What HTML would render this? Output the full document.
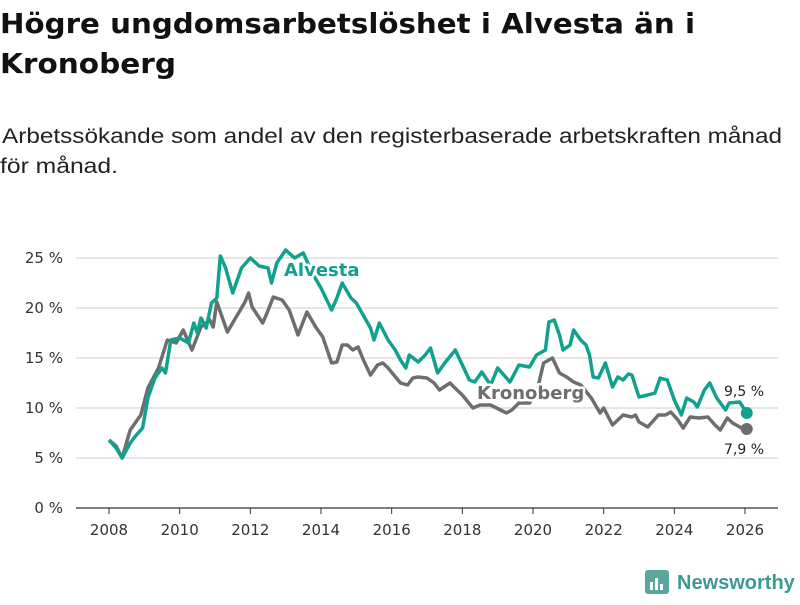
<!DOCTYPE html>
<html><head><meta charset="utf-8"><style>
body{margin:0;background:#fff;width:800px;height:600px;overflow:hidden;font-family:"Liberation Sans",sans-serif}
</style></head><body>
<svg id="chart" width="800" height="600" xmlns="http://www.w3.org/2000/svg" font-family="Liberation Sans, sans-serif">
<text x="0" y="33" font-size="28" font-weight="bold" fill="#111" font-family="DejaVu Sans, sans-serif" textLength="695" lengthAdjust="spacingAndGlyphs">Högre ungdomsarbetslöshet i Alvesta än i</text>
<text x="0" y="73" font-size="28" font-weight="bold" fill="#111" font-family="DejaVu Sans, sans-serif" textLength="176" lengthAdjust="spacingAndGlyphs">Kronoberg</text>
<text x="2" y="143" font-size="21" fill="#222" textLength="780" lengthAdjust="spacingAndGlyphs">Arbetssökande som andel av den registerbaserade arbetskraften månad</text>
<text x="0" y="173" font-size="21" fill="#222" textLength="118" lengthAdjust="spacingAndGlyphs">för månad.</text>
<g id="grid"></g><g id="xaxis"></g><g id="lines"></g><g id="labels"></g>
<g>
<rect x="645" y="570" width="24" height="24" rx="3" fill="#5aa7a0"/>
<rect x="650" y="582" width="3" height="8" fill="#fff"/><rect x="655" y="578" width="3" height="12" fill="#fff"/><rect x="660" y="584" width="3" height="6" fill="#fff"/>
<text x="677" y="589" font-size="20" font-weight="bold" fill="#3d9a91">Newsworthy</text>
</g>
</svg>
<script>
const yTicks=[0,5,10,15,20,25];
const xTicks=[2008,2010,2012,2014,2016,2018,2020,2022,2024,2026];
const alvestaDates=[2008.0,2008.2,2008.37,2008.6,2008.75,2008.95,2009.1,2009.3,2009.5,2009.6,2009.75,2010.0,2010.25,2010.4,2010.5,2010.6,2010.75,2010.9,2011.05,2011.15,2011.3,2011.5,2011.75,2012.0,2012.25,2012.5,2012.6,2012.75,2013.0,2013.25,2013.5,2013.75,2014.0,2014.3,2014.45,2014.6,2014.85,2015.0,2015.4,2015.5,2015.65,2015.9,2016.1,2016.25,2016.4,2016.5,2016.75,2016.95,2017.1,2017.3,2017.5,2017.8,2018.2,2018.35,2018.55,2018.8,2019.0,2019.35,2019.6,2019.9,2020.1,2020.35,2020.45,2020.6,2020.75,2020.85,2021.05,2021.15,2021.35,2021.5,2021.6,2021.7,2021.85,2022.05,2022.25,2022.4,2022.55,2022.7,2022.8,2023.0,2023.25,2023.45,2023.6,2023.8,2024.0,2024.2,2024.35,2024.55,2024.65,2024.85,2025.0,2025.2,2025.45,2025.55,2025.85,2026.05];
const alvestaValues=[6.8,6.0,5.0,6.5,7.2,8.0,11.0,13.0,14.0,13.5,16.8,17.0,16.5,18.5,17.5,19.0,18.0,20.5,21.0,25.2,24.0,21.5,24.0,25.0,24.2,24.0,22.5,24.5,25.8,25.0,25.5,23.5,22.0,19.8,21.0,22.5,21.0,20.5,18.0,16.8,18.5,16.8,15.8,14.8,14.0,15.3,14.6,15.3,16.0,13.5,14.5,15.8,12.8,12.6,13.6,12.3,14.0,12.6,14.3,14.1,15.3,15.8,18.6,18.8,17.3,15.8,16.3,17.8,16.8,16.3,15.3,13.1,13.0,14.5,12.1,13.1,12.8,13.4,13.3,11.1,11.3,11.5,13.0,12.8,10.8,9.3,11.0,10.6,10.1,11.8,12.5,11.0,9.8,10.5,10.6,9.5];
const kronobergDates=[2008.0,2008.2,2008.37,2008.6,2008.9,2009.1,2009.4,2009.65,2009.9,2010.1,2010.35,2010.6,2010.85,2010.95,2011.05,2011.35,2011.55,2011.85,2011.95,2012.05,2012.35,2012.45,2012.65,2012.9,2013.1,2013.35,2013.6,2013.85,2014.05,2014.3,2014.45,2014.6,2014.75,2014.9,2015.05,2015.2,2015.4,2015.6,2015.75,2015.9,2016.25,2016.45,2016.6,2016.75,2017.0,2017.2,2017.35,2017.65,2017.85,2018.0,2018.3,2018.5,2018.8,2019.25,2019.4,2019.6,2019.9,2020.1,2020.3,2020.55,2020.75,2020.95,2021.15,2021.35,2021.65,2021.9,2022.0,2022.25,2022.55,2022.8,2022.9,2023.0,2023.25,2023.55,2023.75,2023.9,2024.1,2024.25,2024.45,2024.7,2024.95,2025.15,2025.3,2025.5,2025.65,2025.9,2026.05];
const kronobergValues=[6.8,6.2,5.0,7.8,9.3,12.0,14.0,16.8,16.5,17.8,15.8,18.1,18.8,18.1,20.6,17.6,18.8,20.6,21.5,20.1,18.5,19.3,21.1,20.8,19.8,17.3,19.6,18.1,17.1,14.5,14.6,16.3,16.3,15.8,16.1,14.8,13.3,14.3,14.5,14.0,12.5,12.3,13.0,13.1,13.0,12.5,11.8,12.5,11.8,11.3,10.0,10.3,10.3,9.5,9.8,10.5,10.5,11.5,14.5,15.0,13.5,13.1,12.6,12.3,11.0,9.5,10.0,8.3,9.3,9.1,9.3,8.6,8.1,9.3,9.3,9.6,8.8,8.0,9.1,9.0,9.1,8.3,7.8,9.0,8.5,8.0,7.9];
const NS='http://www.w3.org/2000/svg';
const X0=109,X1=745,Y0=508;
const xs=d=>X0+(d-2008)*(X1-X0)/18;
const ys=v=>Y0-v*10;
function mk(tag,attrs,parent,txt){const e=document.createElementNS(NS,tag);for(const k in attrs)e.setAttribute(k,attrs[k]);if(txt!==undefined)e.textContent=txt;document.getElementById(parent).appendChild(e);return e;}
yTicks.forEach(t=>{
 const l=mk('line',{x1:76,x2:778,y1:ys(t),y2:ys(t),stroke:t===0?'#333':'#ddd','stroke-width':t===0?1.3:1.5},'grid');
 
 
 const tx=mk('text',{x:63,y:ys(t)+5,'text-anchor':'end','font-size':15,fill:'#333','font-family':'DejaVu Sans, sans-serif'},'grid',t+' %');
 
 
});
xTicks.forEach(t=>{
 const l=mk('line',{x1:xs(t),x2:xs(t),y1:Y0,y2:Y0+6,stroke:'#333','stroke-width':1},'xaxis');
 
 
 const tx=mk('text',{x:xs(t),y:535,'text-anchor':'middle','font-size':15,fill:'#333','font-family':'DejaVu Sans, sans-serif'},'xaxis',String(t));
 
 
});
function series(dates,vals,color,name){
 const d=dates.map((t,i)=>(i?'L':'M')+xs(t).toFixed(1)+','+ys(vals[i]).toFixed(1)).join('');
 const p=mk('path',{d:d,fill:'none',stroke:color,'stroke-width':3.5,'stroke-linejoin':'round'},'lines');
 
 
 const n=dates.length-1;
 const c=mk('circle',{cx:xs(dates[n]),cy:ys(vals[n]),r:6,fill:color},'lines');
 
 
}
series(kronobergDates,kronobergValues,'#6e6e70','kronoberg');
series(alvestaDates,alvestaValues,'#12a18f','alvesta');
function lab(x,y,txt,color,size,weight,name,halo){
 const t=mk('text',{x:x,y:y,'font-size':size,'font-weight':weight,fill:color,stroke:'#fff','stroke-width':halo,'paint-order':'stroke','stroke-linejoin':'round','font-family':'DejaVu Sans, sans-serif'},'labels',txt);
 
 
}
lab(284,276,'Alvesta','#12a18f',18,'bold','alvesta-label',5);
lab(477,399,'Kronoberg','#6e6e70',18,'bold','kronoberg-label',5);
const n1=alvestaValues.length-1,n2=kronobergValues.length-1;
lab(724,ys(alvestaValues[n1])-17,alvestaValues[n1].toFixed(1).replace('.',',')+' %','#222',14,'normal','alvesta-end-value',4);
lab(724,ys(kronobergValues[n2])+25,kronobergValues[n2].toFixed(1).replace('.',',')+' %','#222',14,'normal','kronoberg-end-value',4);
</script>
</body></html>
